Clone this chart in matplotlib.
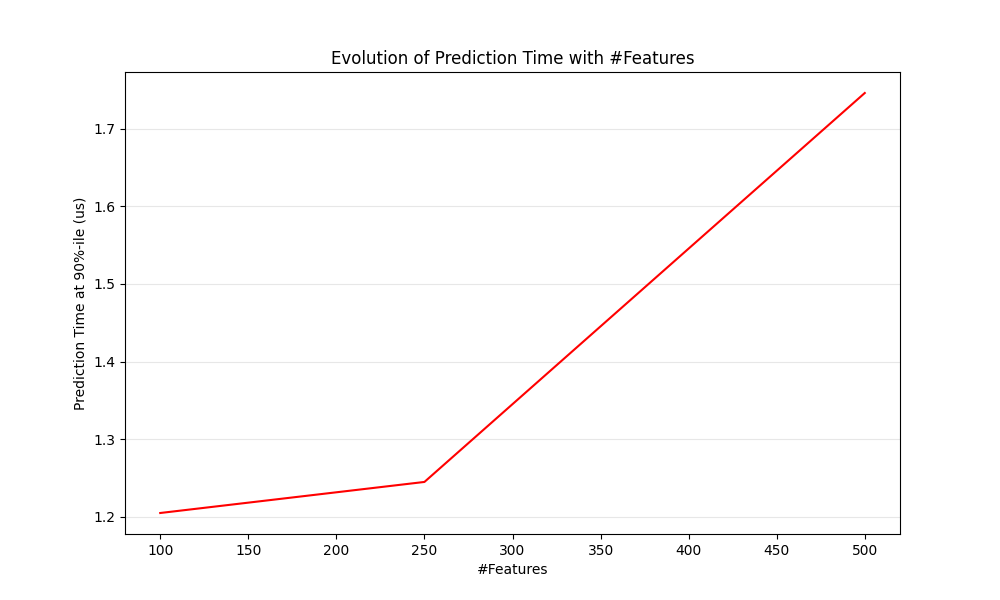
import matplotlib
matplotlib.use("Agg")
import matplotlib.pyplot as plt

n_features = [100, 250, 500]
pred_time_us = [1.205, 1.245, 1.746]

fig, ax = plt.subplots(figsize=(10, 6), dpi=100)
ax.plot(n_features, pred_time_us, color="red")
ax.set_xlabel("#Features")
ax.set_ylabel("Prediction Time at 90%-ile (us)")
ax.set_title("Evolution of Prediction Time with #Features")
ax.grid(True, axis="y", alpha=0.3)
fig.savefig("out.png", dpi=100)
